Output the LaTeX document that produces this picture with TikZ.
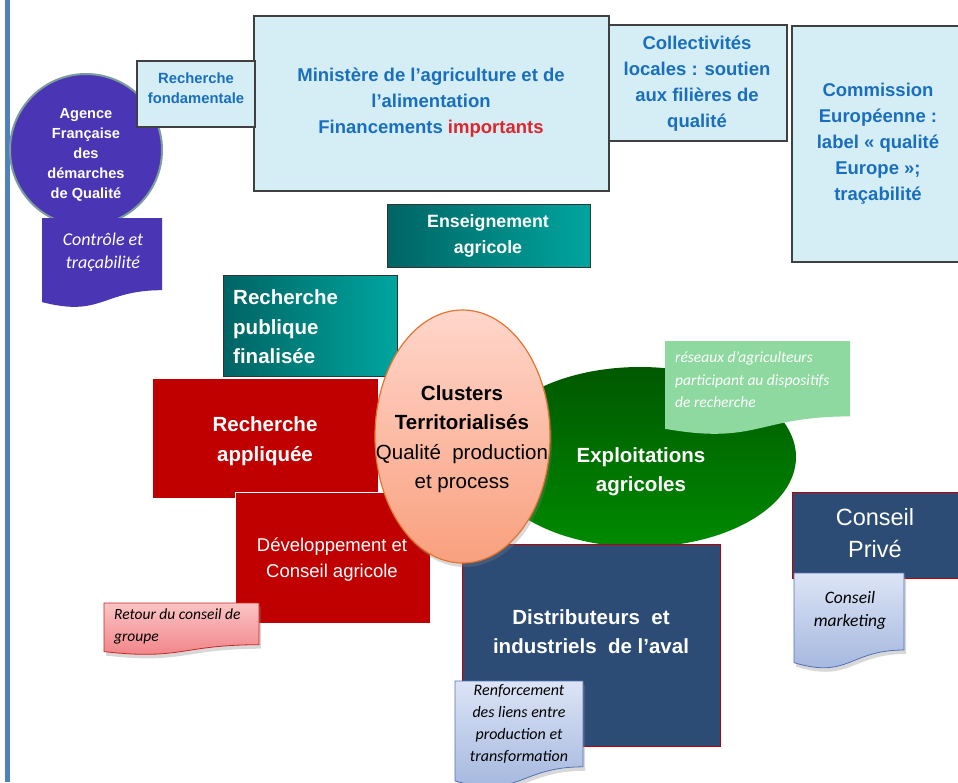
\documentclass[tikz,border=0pt]{standalone}
\usepackage{fontspec}
\setmainfont{Liberation Sans}
\newfontfamily\calfont{Carlito}
\usetikzlibrary{shadows}
\definecolor{barblue}{HTML}{4F81BD}
\definecolor{lbfill}{HTML}{D5EEF5}
\definecolor{lbtext}{HTML}{1A6EBE}
\definecolor{imprd}{HTML}{E0242C}
\definecolor{purp}{HTML}{4A36B4}
\definecolor{purpline}{HTML}{7D9C9C}
\definecolor{tealA}{HTML}{006464}
\definecolor{tealB}{HTML}{00A59E}
\definecolor{redbox}{HTML}{C00000}
\definecolor{navy}{HTML}{2C4C76}
\definecolor{salA}{HTML}{FFD6CB}
\definecolor{salB}{HTML}{F9A07E}
\definecolor{salline}{HTML}{E5742E}
\definecolor{grA}{HTML}{005800}
\definecolor{grB}{HTML}{008A00}
\definecolor{mint}{HTML}{8ED9A0}
\definecolor{pkA}{HTML}{FBC4C4}
\definecolor{pkB}{HTML}{F07E84}
\definecolor{blA}{HTML}{DCE4F6}
\definecolor{blB}{HTML}{9FB3DC}
\definecolor{blline}{HTML}{5272B4}
\tikzset{
  lbbox/.style={fill=lbfill, draw=black!75, line width=1.3pt},
  lbtxt/.style={text=lbtext, font=\bfseries\fontsize{18.5}{26}\selectfont, align=center, inner sep=0},
  wtxt/.style={text=white, align=center, inner sep=0},
  tealbox/.style={left color=tealA, right color=tealB, draw=black!80, line width=1pt},
  redb/.style={fill=redbox, draw=white, line width=1pt},
  navyb/.style={fill=navy, draw=redbox, line width=1pt},
  docshadow/.style={drop shadow={opacity=0.3, shadow xshift=2pt, shadow yshift=-4pt}},
  itxt/.style={font=\calfont\itshape, align=center, inner sep=0}
}
% document shape: #1 left x, #2 top y, #3 right x, #4 height
\newcommand\docpath[4]{(#1,#2) -- (#3,#2) -- (#3,{#2+0.802*#4})
  .. controls ({(#1+#3)/2},{#2+0.802*#4}) and ({(#1+#3)/2},{#2+1.107*#4}) .. (#1,{#2+0.934*#4}) -- cycle}
\begin{document}
\begin{tikzpicture}[x=1pt,y=-1pt]
\useasboundingbox (0,0) rectangle (958,782);
\fill[white] (0,0) rectangle (958,782);
% left bar
\fill[barblue] (5,0) rectangle (10,782);

% Agence circle (behind the boxes)
\path[fill=purp, draw=purpline, line width=2pt] (86,150) circle[radius=76pt];

% top light-blue boxes
\path[lbbox] (792,26) rectangle (962,262);
\path[lbbox] (608,25) rectangle (787,141);
\path[lbbox] (254,16) rectangle (609,191);
\path[lbbox] (137,61) rectangle (255,127);
\node[lbtxt] (comm) at (878,144) {Commission\\Européenne :\\label « qualité\\Europe »;\\traçabilité};
\node[lbtxt] (coll) at (697,84) {Collectivités\\locales : soutien\\aux filières de\\qualité};
\node[lbtxt] (mini) at (431,103) {Ministère de l’agriculture et de\\l’alimentation\\Financements \textcolor{imprd}{importants}};
\node[lbtxt, font=\bfseries\fontsize{14.8}{20.5}\selectfont] (fond) at (196,88) {Recherche\\fondamentale};

% Agence texts and document
\path[fill=purp] \docpath{42}{218}{162}{90};
\node[wtxt, font=\bfseries\fontsize{14.6}{20}\selectfont] (agence) at (86,155) {Agence\\Française\\des\\démarches\\de Qualité};
\node[wtxt, itxt, font=\calfont\itshape\fontsize{18}{23}\selectfont] (controle) at (103,252) {Contrôle et\\traçabilité};

% teal boxes
\path[tealbox] (387,204) rectangle (590,267);
\node[wtxt, font=\bfseries\fontsize{17.8}{26}\selectfont] (ens) at (488,236) {Enseignement\\agricole};
\path[tealbox] (223,275) rectangle (397,376);
\node[wtxt, align=left, font=\bfseries\fontsize{20.5}{29.5}\selectfont, anchor=west] (rpf) at (233,327) {Recherche\\publique\\finalisée};

% red boxes
\path[redb] (152,378) rectangle (378,498);
\node[wtxt, font=\bfseries\fontsize{20.5}{30}\selectfont] (rapp) at (265,441) {Recherche\\appliquée};
\path[redb] (235,492) rectangle (430,623);
\node[wtxt, font=\fontsize{18.5}{26}\selectfont] (dev) at (332,560) {Développement et\\Conseil agricole};

% green ellipse
\path[top color=grA, bottom color=grB] (640,457) ellipse[x radius=156pt, y radius=90pt];
\node[wtxt, font=\bfseries\fontsize{20.5}{29}\selectfont] (expl) at (641,472) {Exploitations\\agricoles};
\path[fill=mint] \docpath{665}{341}{850}{94};
\node[wtxt, itxt, align=left, anchor=west, font=\calfont\itshape\fontsize{15.5}{22.5}\selectfont] (reseaux) at (675,380) {réseaux d’agriculteurs\\participant au dispositifs\\de recherche};

% Distributeurs
\path[navyb] (462,544) rectangle (720,746);
\node[wtxt, font=\bfseries\fontsize{20.5}{29}\selectfont] (dist) at (591,632) {Distributeurs\ \ et\\industriels\ \ de l’aval};

% Clusters
\path[top color=salA, bottom color=salB, draw=salline, line width=1.2pt, drop shadow={opacity=0.3, shadow xshift=2pt, shadow yshift=-4pt}] (462.5,436.5) ellipse[x radius=87.5pt, y radius=126.5pt];
\node[inner sep=0, align=center, font=\fontsize{20.5}{29.5}\selectfont] (clus) at (462,439) {\textbf{Clusters}\\\textbf{Territorialisés}\\Qualité\ \ production\\et process};

% Retour
\path[top color=pkA, bottom color=pkB, draw=redbox!85, line width=0.8pt, docshadow] \docpath{104}{603}{259}{52};
\node[itxt, align=left, anchor=west, font=\calfont\itshape\fontsize{15.5}{22}\selectfont] (retour) at (114,626) {Retour du conseil de\\groupe};

% Renforcement
\path[top color=blA, bottom color=blB, draw=blline, line width=0.8pt, docshadow] \docpath{455}{681}{583}{107};
\node[itxt, font=\calfont\itshape\fontsize{16}{22}\selectfont] (renf) at (519,724) {Renforcement\\des liens entre\\production et\\transformation};

% Conseil privé
\path[navyb] (792,492) rectangle (962,578);
\node[wtxt, font=\fontsize{23.5}{32}\selectfont] (cprive) at (875,533) {Conseil\\Privé};
\path[top color=blA, bottom color=blB, draw=blline, line width=0.8pt, docshadow] \docpath{794}{573}{904}{96};
\node[itxt, font=\calfont\itshape\fontsize{17.5}{23}\selectfont] (cmark) at (850,610) {Conseil\\marketing};
\end{tikzpicture}
\end{document}
